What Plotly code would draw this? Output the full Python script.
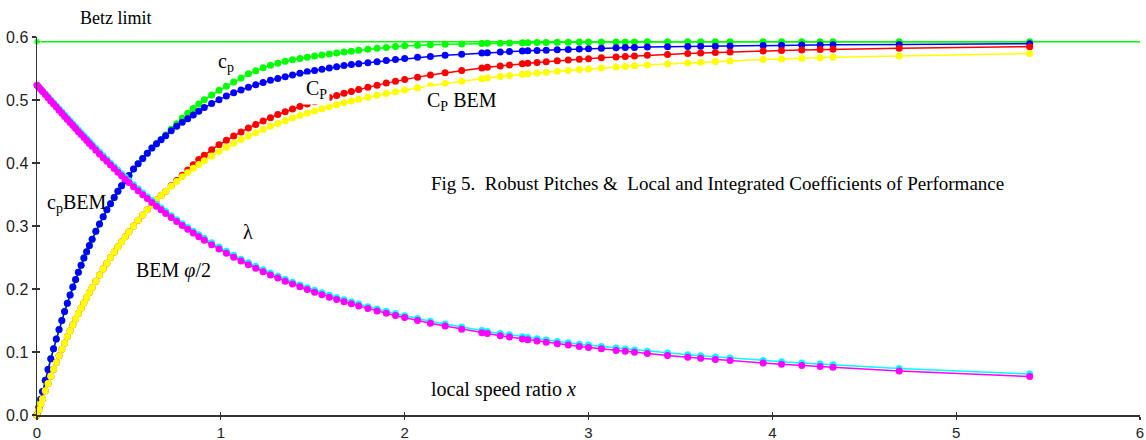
import plotly.graph_objects as go

# ---------------- data ----------------
x_vals = [0, 0.01, 0.02, 0.03, 0.045, 0.06, 0.075, 0.09, 0.105, 0.12, 0.135, 0.15, 0.165, 0.18, 0.195,
          0.21, 0.225, 0.24, 0.255, 0.27, 0.285, 0.30, 0.32, 0.34, 0.36, 0.38, 0.40, 0.42, 0.44, 0.46,
          0.48, 0.50, 0.525, 0.55, 0.575, 0.60, 0.625, 0.65, 0.675, 0.70, 0.73, 0.76, 0.79, 0.82, 0.85,
          0.88, 0.91, 0.95, 0.99, 1.03, 1.07, 1.11, 1.15, 1.19, 1.23, 1.27, 1.31, 1.35, 1.39, 1.43,
          1.47, 1.51, 1.55, 1.59, 1.63, 1.67, 1.71, 1.75, 1.80, 1.85, 1.90, 1.95, 2.00, 2.07, 2.14,
          2.22, 2.31, 2.42, 2.45, 2.52, 2.57, 2.64, 2.67, 2.72, 2.77, 2.83, 2.89, 2.95, 3.00, 3.07,
          3.15, 3.20, 3.25, 3.32, 3.43, 3.54, 3.61, 3.69, 3.77, 3.95, 4.05, 4.16, 4.26, 4.33, 4.69, 5.40]

# local c_p (green)
cp_local = [0, 0.0125, 0.0249, 0.0374, 0.0551, 0.0723, 0.0893, 0.1050, 0.1207, 0.1357, 0.1499, 0.1641,
            0.1775, 0.1903, 0.2030, 0.2152, 0.2265, 0.2378, 0.2491, 0.2591, 0.2690, 0.2790, 0.2915,
            0.3031, 0.3146, 0.3256, 0.3354, 0.3453, 0.3551, 0.3637, 0.3719, 0.3801, 0.3903, 0.3989,
            0.4072, 0.4154, 0.4237, 0.4305, 0.4375, 0.4445, 0.4535, 0.4625, 0.4710, 0.4790, 0.4865,
            0.4935, 0.5005, 0.5080, 0.5155, 0.5220, 0.5285, 0.5350, 0.5415, 0.5465, 0.5510, 0.5550,
            0.5585, 0.5615, 0.5640, 0.5660, 0.5680, 0.5700, 0.5715, 0.5730, 0.5745, 0.5760, 0.5775,
            0.5790, 0.5805, 0.5820, 0.5835, 0.5850, 0.5860, 0.5870, 0.5878, 0.5885, 0.5890, 0.5897,
            0.5899, 0.5902, 0.5905, 0.5908, 0.5910, 0.5912, 0.5914, 0.5916, 0.5918, 0.5919, 0.5920,
            0.5921, 0.5922, 0.5922, 0.5922, 0.5923, 0.5923, 0.5923, 0.5924, 0.5924, 0.5924, 0.5924,
            0.5925, 0.5925, 0.5925, 0.5925, 0.5925, 0.5925]

# local c_p BEM (blue)
cp_bem = [0, 0.0125, 0.0249, 0.0374, 0.0551, 0.0723, 0.0893, 0.1050, 0.1207, 0.1357, 0.1499, 0.1641,
          0.1775, 0.1903, 0.2030, 0.2152, 0.2265, 0.2378, 0.2491, 0.2591, 0.2690, 0.2790, 0.2915,
          0.3031, 0.3146, 0.3256, 0.3354, 0.3453, 0.3551, 0.3637, 0.3719, 0.3801, 0.3903, 0.3989,
          0.4072, 0.4154, 0.4237, 0.4305, 0.4369, 0.4433, 0.4510, 0.4585, 0.4645, 0.4703, 0.4762,
          0.4820, 0.4880, 0.4945, 0.5005, 0.5063, 0.5114, 0.5160, 0.5204, 0.5241, 0.5276, 0.5312,
          0.5342, 0.5370, 0.5397, 0.5424, 0.5449, 0.5469, 0.5488, 0.5508, 0.5528, 0.5548, 0.5563,
          0.5576, 0.5593, 0.5609, 0.5626, 0.5642, 0.5659, 0.5677, 0.5692, 0.5710, 0.5727, 0.5745,
          0.5749, 0.5761, 0.5769, 0.5778, 0.5781, 0.5786, 0.5791, 0.5797, 0.5803, 0.5808, 0.5813,
          0.5820, 0.5828, 0.5832, 0.5835, 0.5840, 0.5845, 0.5850, 0.5852, 0.5855, 0.5858, 0.5864,
          0.5868, 0.5872, 0.5874, 0.5876, 0.5882, 0.5893]

# integrated C_P BEM (yellow)
CP_bem = [0, 0.0085, 0.0170, 0.0255, 0.0383, 0.0499, 0.0614, 0.0725, 0.0834, 0.0940, 0.1043, 0.1144,
          0.1243, 0.1338, 0.1432, 0.1523, 0.1611, 0.1698, 0.1782, 0.1864, 0.1944, 0.2022, 0.2124,
          0.2223, 0.2318, 0.2410, 0.2499, 0.2586, 0.2670, 0.2751, 0.2830, 0.2908, 0.3000, 0.3090,
          0.3175, 0.3257, 0.3337, 0.3413, 0.3486, 0.3553, 0.3632, 0.3708, 0.3780, 0.3850, 0.3916,
          0.3977, 0.4036, 0.4111, 0.4182, 0.4249, 0.4312, 0.4372, 0.4429, 0.4482, 0.4533, 0.4582,
          0.4628, 0.4672, 0.4713, 0.4753, 0.4790, 0.4826, 0.4861, 0.4893, 0.4925, 0.4955, 0.4983,
          0.5011, 0.5043, 0.5074, 0.5103, 0.5131, 0.5158, 0.5193, 0.5226, 0.5261, 0.5298, 0.5338,
          0.5349, 0.5372, 0.5387, 0.5407, 0.5415, 0.5429, 0.5441, 0.5456, 0.5470, 0.5483, 0.5493,
          0.5507, 0.5523, 0.5532, 0.5542, 0.5555, 0.5573, 0.5589, 0.5600, 0.5610, 0.5620, 0.5641,
          0.5651, 0.5662, 0.5672, 0.5678, 0.5699, 0.5737]

# integrated C_P (red)
CP_int = [0, 0.0085, 0.0170, 0.0255, 0.0383, 0.0499, 0.0614, 0.0725, 0.0834, 0.0940, 0.1043, 0.1144,
          0.1243, 0.1338, 0.1432, 0.1523, 0.1611, 0.1698, 0.1782, 0.1864, 0.1944, 0.2022, 0.2124,
          0.2223, 0.2318, 0.2410, 0.2499, 0.2586, 0.2670, 0.2751, 0.2830, 0.2908, 0.3000, 0.3090,
          0.3175, 0.3257, 0.3337, 0.3413, 0.3486, 0.3553, 0.3640, 0.3722, 0.3806, 0.3890, 0.3972,
          0.4054, 0.4125, 0.4210, 0.4290, 0.4362, 0.4430, 0.4494, 0.4555, 0.4612, 0.4667, 0.4720,
          0.4769, 0.4815, 0.4858, 0.4898, 0.4935, 0.4971, 0.5006, 0.5039, 0.5072, 0.5106, 0.5136,
          0.5167, 0.5202, 0.5236, 0.5268, 0.5298, 0.5327, 0.5363, 0.5398, 0.5433, 0.5470, 0.5509,
          0.5519, 0.5541, 0.5556, 0.5575, 0.5583, 0.5596, 0.5607, 0.5622, 0.5635, 0.5647, 0.5656,
          0.5669, 0.5683, 0.5690, 0.5699, 0.5709, 0.5724, 0.5737, 0.5745, 0.5753, 0.5761, 0.5777,
          0.5785, 0.5793, 0.5800, 0.5804, 0.5823, 0.5846]

# lambda (cyan)
lam = [0.5236, 0.5205, 0.5172, 0.5140, 0.5094, 0.5046, 0.4998, 0.4951, 0.4903, 0.4856, 0.4809, 0.4761,
       0.4713, 0.4665, 0.4618, 0.4571, 0.4524, 0.4478, 0.4431, 0.4386, 0.4340, 0.4295, 0.4234, 0.4174,
       0.4114, 0.4056, 0.3998, 0.3941, 0.3884, 0.3829, 0.3774, 0.3720, 0.3655, 0.3590, 0.3528, 0.3465,
       0.3404, 0.3345, 0.3287, 0.3230, 0.3164, 0.3100, 0.3037, 0.2977, 0.2918, 0.2860, 0.2805, 0.2734,
       0.2665, 0.2599, 0.2535, 0.2474, 0.2416, 0.2360, 0.2305, 0.2253, 0.2203, 0.2155, 0.2109, 0.2064,
       0.2021, 0.1980, 0.1940, 0.1901, 0.1864, 0.1829, 0.1794, 0.1761, 0.1720, 0.1682, 0.1645, 0.1610,
       0.1577, 0.1532, 0.1489, 0.1444, 0.1395, 0.1340, 0.1326, 0.1293, 0.1272, 0.1242, 0.1229, 0.1209,
       0.1191, 0.1168, 0.1146, 0.1125, 0.1110, 0.1087, 0.1062, 0.1047, 0.1033, 0.1013, 0.0984, 0.0957,
       0.0940, 0.0921, 0.0903, 0.0867, 0.0847, 0.0826, 0.0809, 0.0797, 0.0740, 0.0650]

# BEM phi/2 (magenta)
phi_half = [0.5236, 0.5203, 0.5169, 0.5136, 0.5086, 0.5036, 0.4986, 0.4937, 0.4887, 0.4838, 0.4789,
            0.4740, 0.4691, 0.4642, 0.4594, 0.4546, 0.4498, 0.4451, 0.4403, 0.4357, 0.4310, 0.4264,
            0.4204, 0.4144, 0.4084, 0.4026, 0.3968, 0.3911, 0.3854, 0.3799, 0.3744, 0.3690, 0.3625,
            0.3560, 0.3498, 0.3435, 0.3374, 0.3315, 0.3257, 0.3200, 0.3134, 0.3070, 0.3007, 0.2947,
            0.2888, 0.2830, 0.2775, 0.2704, 0.2635, 0.2569, 0.2505, 0.2444, 0.2386, 0.2330, 0.2275,
            0.2223, 0.2173, 0.2125, 0.2079, 0.2034, 0.1991, 0.1950, 0.1910, 0.1871, 0.1834, 0.1799,
            0.1764, 0.1731, 0.1690, 0.1652, 0.1615, 0.1580, 0.1546, 0.1500, 0.1457, 0.1411, 0.1362,
            0.1306, 0.1292, 0.1259, 0.1237, 0.1207, 0.1194, 0.1174, 0.1155, 0.1132, 0.1110, 0.1089,
            0.1073, 0.1050, 0.1025, 0.1010, 0.0995, 0.0975, 0.0946, 0.0918, 0.0901, 0.0882, 0.0864,
            0.0827, 0.0807, 0.0786, 0.0769, 0.0757, 0.0700, 0.0610]

betz = 0.5926
x_range = [0, 6]
y_range = [0, 0.6]
x_ticks = [0, 1, 2, 3, 4, 5, 6]
y_ticks = [0.0, 0.1, 0.2, 0.3, 0.4, 0.5, 0.6]

GREEN = "#00ff00"
BLUE = "#0000ff"
RED = "#ff0000"
YELLOW = "#ffff00"
CYAN = "#00ffff"
MAGENTA = "#ff00ff"

MS = 7
LW = 1.5


def series(y, color):
    return go.Scatter(x=x_vals, y=y, mode="lines+markers",
                      line=dict(color=color, width=LW),
                      marker=dict(color=color, size=MS),
                      cliponaxis=False, showlegend=False, hoverinfo="skip")


fig = go.Figure()
# Betz limit line with its dot at x = 0
fig.add_trace(go.Scatter(x=x_range, y=[betz, betz], mode="lines+markers",
                         line=dict(color=GREEN, width=LW),
                         marker=dict(color=GREEN, size=[MS, 0]),
                         cliponaxis=False, showlegend=False, hoverinfo="skip"))
fig.add_trace(series(cp_local, GREEN))
fig.add_trace(series(cp_bem, BLUE))
fig.add_trace(series(CP_int, RED))
fig.add_trace(series(CP_bem, YELLOW))
fig.add_trace(series(lam, CYAN))
fig.add_trace(series(phi_half, MAGENTA))
# carrier for the inner half of the crossing tick marks
fig.add_trace(go.Scatter(x=[None], y=[None], xaxis="x2", yaxis="y2", showlegend=False))

serif = "Liberation Serif"


def label(text, x, y, bg=None, size=20, yref="y"):
    d = dict(text=text, x=x, y=y, xref="x", yref=yref, showarrow=False,
             xanchor="center", yanchor="middle",
             font=dict(family=serif, size=size, color="black"))
    if bg:
        d.update(bgcolor=bg, borderpad=2)
    return d


annotations = [
    label("Betz limit", 0.43, 1.05, size=18, yref="paper"),
    label("c<sub>p</sub>", 1.03, 0.560),
    label("C<sub>P</sub>", 1.52, 0.516, bg="white"),
    label("C<sub>P</sub> BEM", 2.31, 0.498, bg="white"),
    label("c<sub>p</sub>BEM", 0.215, 0.335),
    label("λ", 1.148, 0.290),
    label("BEM <i>φ</i>/2", 0.745, 0.230),
    label("Fig 5.\u00a0 Robust Pitches &amp;\u00a0 Local and Integrated Coefficients of Performance",
          3.70, 0.368, size=19),
    label("local speed ratio <i>x</i>", 2.535, 0.040),
]

tick_font = dict(family="Liberation Sans", size=16, color="#222222")
axis_common = dict(showgrid=False, zeroline=False, showline=True, linecolor="#333333",
                   linewidth=1.5, ticks="outside", tickwidth=1.2,
                   tickcolor="#333333", automargin=False, fixedrange=True)

fig.update_layout(
    width=1146, height=440,
    margin=dict(l=37, r=6, t=37, b=25),
    paper_bgcolor="white", plot_bgcolor="white",
    showlegend=False,
    xaxis=dict(range=x_range, tickvals=x_ticks, ticktext=[str(v) for v in x_ticks],
               tickfont=dict(family="Liberation Sans", size=15, color="#222222"),
               ticklen=3, **axis_common),
    yaxis=dict(range=y_range, tickvals=y_ticks, ticktext=["%.1f" % v for v in y_ticks],
               tickfont=tick_font, ticklen=4, **axis_common),
    xaxis2=dict(range=x_range, tickvals=x_ticks, overlaying="x", anchor="y2",
                showticklabels=False, showgrid=False, zeroline=False, showline=False,
                ticks="inside", ticklen=3, tickwidth=1.2, tickcolor="#333333", side="bottom"),
    yaxis2=dict(range=y_range, tickvals=y_ticks, overlaying="y", anchor="x2",
                showticklabels=False, showgrid=False, zeroline=False, showline=False,
                ticks="inside", ticklen=3, tickwidth=1.2, tickcolor="#333333", side="left"),
    annotations=annotations,
)

fig.write_html("out.html", config={"displayModeBar": False, "staticPlot": True},
               post_script="document.body.style.margin='0';document.body.style.padding='0';")
